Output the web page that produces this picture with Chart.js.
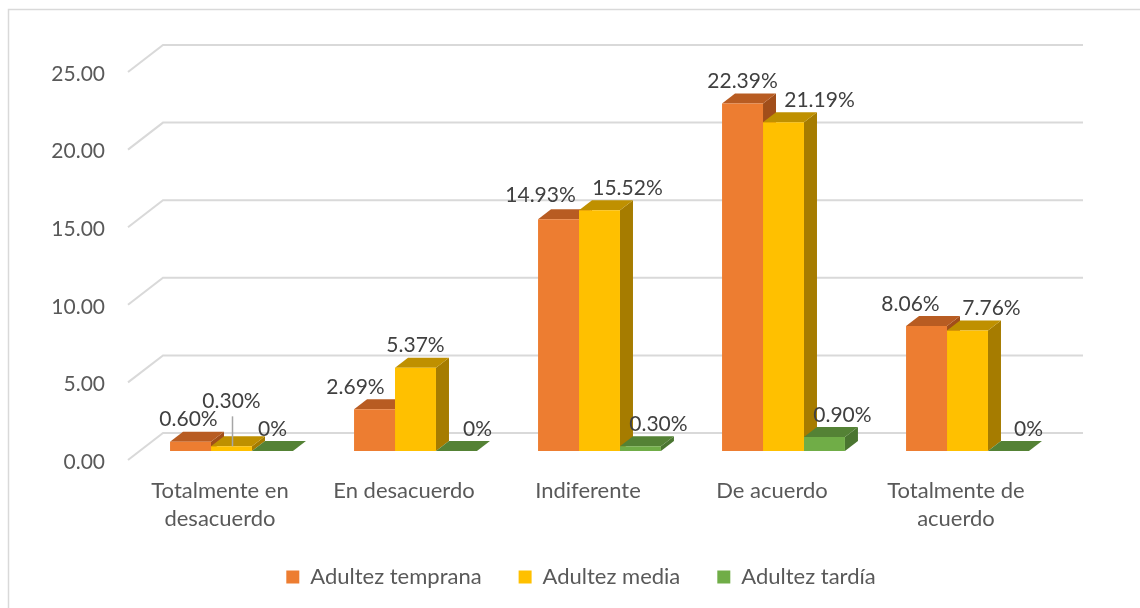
<!DOCTYPE html>
<html>
<head>
<meta charset="utf-8">
<script src="https://cdn.jsdelivr.net/npm/chart.js@4/dist/chart.umd.min.js"></script>
<style>
  html, body { margin: 0; padding: 0; background: #fff; }
  #wrap { width: 1140px; height: 608px; position: relative; }
</style>
</head>
<body>
<div id="wrap"><canvas id="grafico"></canvas></div>
<script>
const categorias = [['Totalmente en', 'desacuerdo'], 'En desacuerdo', 'Indiferente', 'De acuerdo', ['Totalmente de', 'acuerdo']];
const series = ['Adultez temprana', 'Adultez media', 'Adultez tardía'];
const temprana = [0.60, 2.69, 14.93, 22.39, 8.06];
const media = [0.30, 5.37, 15.52, 21.19, 7.76];
const tardia = [0, 0, 0.30, 0.90, 0];
const yMin = 0, yMax = 25, yPaso = 5;

// colores: frente, tapa, lateral
const caras = [
    { front: '#ED7D31', top: '#B85C22', side: '#A14E1A' },
    { front: '#FFC000', top: '#BF9000', side: '#A67C00' },
    { front: '#70AD47', top: '#548235', side: '#4A7530' }
];

// desplazamiento de las etiquetas (px) por serie y categoría
const ajustes = [
    [[-2, 0], [-19, 0], [-18, -2], [0, 0], [-16, 0]],
    [[0, -23], [0, 0], [28, 0], [36, 0], [24, 0]],
    [[0, 0], [21, 0], [18, 0], [18, 0], [20, 0]]
];

const DX = 13, DY = -10;       // profundidad de las barras
const GX = 35, GY = -27;       // profundidad de la pared
const SX = 11.5, SY = -11;     // barras dentro del fondo

const fmt = v => v === 0 ? '0%' : v.toFixed(2) + '%';

function poly(ctx, pts) {
    ctx.beginPath();
    ctx.moveTo(pts[0][0], pts[0][1]);
    for (let i = 1; i < pts.length; i++) ctx.lineTo(pts[i][0], pts[i][1]);
    ctx.closePath();
    ctx.fill();
}

const tresD = {
    id: 'tresD',
    beforeDraw(chart) {
        const ctx = chart.ctx;
        ctx.save();
        ctx.fillStyle = '#fff';
        ctx.fillRect(0, 0, chart.width, chart.height);
        ctx.strokeStyle = '#D9D9D9';
        ctx.lineWidth = 1.5;
        ctx.beginPath();
        ctx.moveTo(8.5, chart.height);
        ctx.lineTo(8.5, 9.5);
        ctx.lineTo(chart.width, 9.5);
        ctx.stroke();
        ctx.restore();
    },
    beforeDatasetsDraw(chart) {
        const { ctx, chartArea: a, scales: { y } } = chart;
        ctx.save();
        ctx.strokeStyle = '#D9D9D9';
        ctx.lineWidth = 2;
        y.ticks.forEach(t => {
            const py = y.getPixelForValue(t.value) - 2;
            ctx.beginPath();
            ctx.moveTo(a.left, py);
            ctx.lineTo(a.left + GX, py + GY);
            ctx.lineTo(a.right + GX, py + GY);
            ctx.stroke();
        });
        ctx.translate(SX, SY);
        const barras = [];
        chart.data.datasets.forEach((ds, i) => {
            chart.getDatasetMeta(i).data.forEach(b => barras.push([b, caras[i]]));
        });
        // primero laterales, luego tapas; el frente lo dibuja Chart.js
        barras.forEach(([b, c]) => {
            const r = b.x + b.width / 2;
            ctx.fillStyle = c.side;
            poly(ctx, [[r, b.y], [r + DX, b.y + DY], [r + DX, b.base + DY], [r, b.base]]);
        });
        barras.forEach(([b, c]) => {
            const l = b.x - b.width / 2, r = b.x + b.width / 2;
            ctx.fillStyle = c.top;
            poly(ctx, [[l, b.y], [r, b.y], [r + DX, b.y + DY], [l + DX, b.y + DY]]);
        });
    },
    afterDatasetsDraw(chart) {
        const ctx = chart.ctx;
        ctx.restore();
        ctx.save();
        ctx.font = '21px Lato';
        ctx.fillStyle = '#404040';
        ctx.textAlign = 'center';
        ctx.textBaseline = 'middle';
        chart.data.datasets.forEach((ds, i) => {
            chart.getDatasetMeta(i).data.forEach((b, j) => {
                const [nx, ny] = ajustes[i][j];
                const x = b.x + SX + nx, y = b.y + SY - 22 + ny;
                ctx.fillText(fmt(ds.data[j]), x, y);
                if (ny < -10) {
                    ctx.strokeStyle = '#A6A6A6';
                    ctx.lineWidth = 1.5;
                    ctx.beginPath();
                    ctx.moveTo(x + 1, y + 15);
                    ctx.lineTo(x + 1, b.y + SY);
                    ctx.stroke();
                }
            });
        });
        ctx.restore();
    }
};

new Chart(document.getElementById('grafico'), {
    type: 'bar',
    data: {
        labels: categorias,
        datasets: [
            { label: series[0], data: temprana, backgroundColor: caras[0].front },
            { label: series[1], data: media, backgroundColor: caras[1].front },
            { label: series[2], data: tardia, backgroundColor: caras[2].front }
        ]
    },
    options: {
        responsive: true,
        maintainAspectRatio: false,
        animation: false,
        devicePixelRatio: 1,
        datasets: { bar: { categoryPercentage: 0.668, barPercentage: 1, borderWidth: 0 } },
        layout: { padding: { top: 74, right: 0, left: 22, bottom: 10 } },
        scales: {
            x: {
                grid: { display: false, drawTicks: false },
                border: { display: false },
                ticks: {
                    color: '#595959', font: { family: 'Lato', size: 22, lineHeight: 1.25 },
                    padding: 15.5, maxRotation: 0, autoSkip: false
                },
                afterFit(s) { s.height = 67; }
            },
            y: {
                min: yMin, max: yMax,
                grid: { display: false, drawTicks: false },
                border: { display: false },
                ticks: {
                    stepSize: yPaso, color: '#595959', padding: 23,
                    font: { family: 'Lato', size: 21 },
                    callback: v => v.toFixed(2)
                },
                afterFit(s) { s.width = 106; }
            },
            margen: {
                position: 'right',
                grid: { display: false, drawTicks: false },
                border: { display: false },
                ticks: { display: false },
                afterFit(s) { s.width = 92; }
            }
        },
        plugins: {
            legend: {
                position: 'bottom',
                labels: {
                    color: '#595959', font: { family: 'Lato', size: 22 },
                    boxWidth: 13, boxHeight: 13, padding: 37
                }
            },
            tooltip: { enabled: false }
        }
    },
    plugins: [tresD]
});
</script>
</body>
</html>
